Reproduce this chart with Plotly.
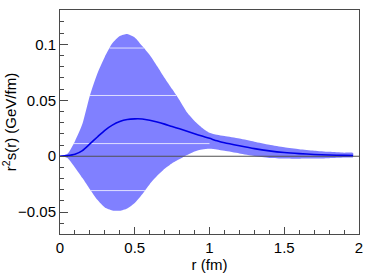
import numpy as np
import plotly.graph_objects as go

# ---- data ----
r_vals = [0, 0.05, 0.1, 0.15, 0.2, 0.25, 0.3, 0.35, 0.4, 0.45, 0.5, 0.55, 0.6, 0.65,
          0.7, 0.75, 0.8, 0.85, 0.9, 0.95, 1.0, 1.05, 1.1, 1.2, 1.3, 1.4, 1.5, 1.6,
          1.7, 1.8, 1.9, 1.96]
central = [0, 0.0006, 0.0018, 0.0050, 0.0110, 0.0172, 0.0232, 0.0278, 0.0310, 0.0328,
           0.0334, 0.0333, 0.0322, 0.0306, 0.0287, 0.0265, 0.0245, 0.0223, 0.0201, 0.0180,
           0.0160, 0.0138, 0.0120, 0.0093, 0.0068, 0.0048, 0.0033, 0.0023, 0.0016, 0.0011,
           0.0008, 0.0007]
upper = [0, 0.0022, 0.0135, 0.0290, 0.0543, 0.0740, 0.0890, 0.1010, 0.1075, 0.1093,
         0.1062, 0.0985, 0.0905, 0.0805, 0.0700, 0.0600, 0.0500, 0.0390, 0.0315, 0.0255,
         0.0210, 0.0192, 0.0180, 0.0158, 0.0130, 0.0103, 0.0080, 0.0063, 0.0050, 0.0040,
         0.0032, 0.0029]
lower = [0, -0.0015, -0.0100, -0.0195, -0.0295, -0.0390, -0.0458, -0.0484, -0.0487, -0.0466,
         -0.0418, -0.0340, -0.0250, -0.0175, -0.0112, -0.0062, -0.0025, 0.0012, 0.0043, 0.0060,
         0.0066, 0.0060, 0.0048, 0.0025, 0.0002, -0.0015, -0.0020, -0.0022, -0.0021, -0.0017,
         -0.0011, -0.0008]
seam_levels = [0.0967, 0.0543, 0.0113, -0.0307]

x_range = [0, 2]
y_range = [-0.0695, 0.1307]
x_ticks = [0, 0.5, 1, 1.5, 2]
x_ticktext = ["0", "0.5", "1", "1.5", "2"]
y_ticks = [-0.05, 0, 0.05, 0.1]
y_ticktext = ["\u22120.05", "0", "0.05", "0.1"]

band_color = "rgb(128,128,255)"
line_color = "rgb(0,0,230)"
axis_color = "#4a4a4a"
font_family = "Liberation Sans, Arial, sans-serif"

fig = go.Figure()

# error band
fig.add_trace(go.Scatter(
    x=r_vals + r_vals[::-1], y=upper + lower[::-1],
    fill="toself", fillcolor=band_color, mode="lines",
    line=dict(width=0, shape="spline", smoothing=0.6, color=band_color),
    hoverinfo="skip", showlegend=False))

# faint white seams inside the band (rendering artifacts of the original)
r_arr = np.array(r_vals)
up_arr = np.array(upper)
lo_arr = np.array(lower)
r_fine = np.linspace(r_arr[0], r_arr[-1], 2000)
up_f = np.interp(r_fine, r_arr, up_arr)
lo_f = np.interp(r_fine, r_arr, lo_arr)
r_lo_max = r_arr[np.argmax(lo_arr)]
for lev in seam_levels:
    inside = (lo_f <= lev) & (up_f >= lev)
    idx = np.where(inside)[0]
    if len(idx) == 0:
        continue
    start = idx[0]
    end = start
    while end + 1 < len(inside) and inside[end + 1]:
        end += 1
    x0, x1 = r_fine[start], min(r_fine[end], r_lo_max)
    fig.add_trace(go.Scatter(
        x=[x0, x1], y=[lev, lev], mode="lines",
        line=dict(color="rgba(255,255,255,0.75)", width=1),
        hoverinfo="skip", showlegend=False))

# zero reference line
fig.add_trace(go.Scatter(
    x=x_range, y=[0, 0], mode="lines",
    line=dict(color="#505050", width=1.2),
    hoverinfo="skip", showlegend=False))

# central curve
fig.add_trace(go.Scatter(
    x=r_vals, y=central, mode="lines",
    line=dict(color=line_color, width=1.6, shape="spline", smoothing=0.6),
    hoverinfo="skip", showlegend=False))

axis_common = dict(
    showline=True, linecolor=axis_color, linewidth=1, mirror=True,
    ticks="inside", tickcolor=axis_color, tickwidth=1,
    showgrid=False, zeroline=False,
    tickfont=dict(family=font_family, size=15, color="black"),
)

fig.update_xaxes(
    range=x_range, tickvals=x_ticks, ticktext=x_ticktext, ticklen=7,
    minor=dict(ticks="inside", dtick=0.1, ticklen=4, tickcolor=axis_color, showgrid=False),
    title=dict(text="r (fm)", font=dict(family=font_family, size=15, color="black"), standoff=1),
    **axis_common)
fig.update_yaxes(
    range=y_range, tickvals=y_ticks, ticktext=y_ticktext, ticklen=8,
    minor=dict(ticks="inside", dtick=0.01, ticklen=4, tickcolor=axis_color, showgrid=False),
    title=dict(text="r<sup>2</sup>s(r) (GeV/fm)", font=dict(family=font_family, size=15, color="black"), standoff=0),
    **axis_common)

fig.update_layout(
    width=374, height=274,
    margin=dict(l=60, r=15, t=10, b=40, autoexpand=False),
    paper_bgcolor="white", plot_bgcolor="white",
    showlegend=False,
)

fig.write_html("out.html", config={"displayModeBar": False},
               post_script="document.body.style.margin='0';")
